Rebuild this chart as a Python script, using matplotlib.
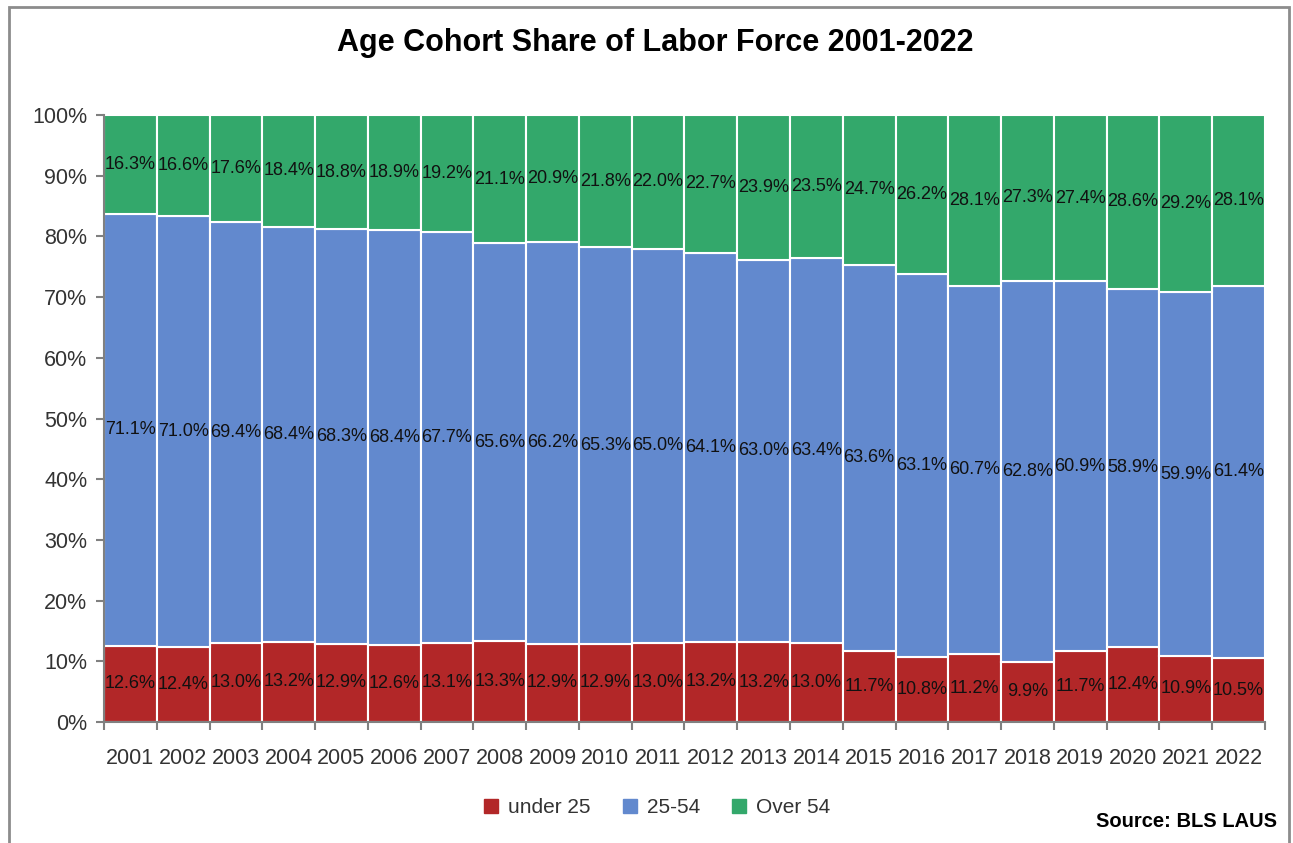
import matplotlib.pyplot as plt
import numpy as np
from matplotlib.patches import Rectangle
from matplotlib.lines import Line2D

years = [str(y) for y in range(2001, 2023)]
under_25 = [12.6, 12.4, 13.0, 13.2, 12.9, 12.6, 13.1, 13.3, 12.9, 12.9, 13.0,
            13.2, 13.2, 13.0, 11.7, 10.8, 11.2, 9.9, 11.7, 12.4, 10.9, 10.5]
age_25_54 = [71.1, 71.0, 69.4, 68.4, 68.3, 68.4, 67.7, 65.6, 66.2, 65.3, 65.0,
             64.1, 63.0, 63.4, 63.6, 63.1, 60.7, 62.8, 60.9, 58.9, 59.9, 61.4]
over_54 = [16.3, 16.6, 17.6, 18.4, 18.8, 18.9, 19.2, 21.1, 20.9, 21.8, 22.0,
           22.7, 23.9, 23.5, 24.7, 26.2, 28.1, 27.3, 27.4, 28.6, 29.2, 28.1]

series = [("under 25", under_25, "#B22728"),
          ("25-54", age_25_54, "#6289CE"),
          ("Over 54", over_54, "#33A86B")]

plt.rcParams["font.family"] = ["Liberation Sans", "DejaVu Sans"]

fig = plt.figure(figsize=(12.93, 8.43), dpi=100)
ax = fig.add_axes([0.0804, 0.1435, 0.8979, 0.7201])

x = np.arange(len(years))
# 100% stacked: scale each year's shares so the column tops out at 100
totals = np.sum([s[1] for s in series], axis=0)
bottom = np.zeros(len(years))
for name, vals, color in series:
    vals = np.array(vals)
    heights = vals / totals * 100
    ax.bar(x, heights, bottom=bottom, width=1.0, color=color,
           edgecolor="white", linewidth=1.5, label=name, zorder=2)
    for xi, b, h, v in zip(x, bottom, heights, vals):
        ax.text(xi, b + h / 2, f"{v:.1f}%", ha="center", va="center",
                fontsize=13, color="#111111", zorder=4)
    bottom = bottom + heights

ax.set_xlim(-0.5, len(years) - 0.5)
ax.set_ylim(0, 100)
ax.set_yticks(np.arange(0, 101, 10))
ax.set_yticklabels([f"{v}%" for v in range(0, 101, 10)])
ax.set_xticks(x)
ax.set_xticklabels(years)
ax.set_xticks(np.arange(-0.5, len(years)), minor=True)
ax.tick_params(axis="x", which="major", length=0, pad=19, labelsize=15.5,
               colors="#333333")
ax.tick_params(axis="x", which="minor", length=6, color="#808080", width=1.5)
ax.tick_params(axis="y", length=6, color="#808080", width=1.5,
               labelsize=15.5, colors="#333333", pad=6)
ax.grid(axis="y", color="#000000", alpha=0.12, linewidth=1.2, zorder=3)
for s in ("top", "right"):
    ax.spines[s].set_visible(False)
for s in ("left", "bottom"):
    ax.spines[s].set_color("#808080")
    ax.spines[s].set_linewidth(1.5)
    ax.spines[s].set_zorder(5)

fig.text(0.5067, 0.949, "Age Cohort Share of Labor Force 2001-2022",
         ha="center", va="center", fontsize=22, fontweight="bold")

handles = [Line2D([], [], marker="s", linestyle="", markersize=10,
                  color=c, label=n) for n, _, c in series]
leg = fig.legend(handles=handles, loc="center", bbox_to_anchor=(0.507, 0.042),
                 ncol=3, frameon=False, fontsize=15, handletextpad=0.3,
                 columnspacing=1.4, handlelength=1.0)
for t in leg.get_texts():
    t.set_color("#333333")

fig.text(0.988, 0.025, "Source: BLS LAUS", ha="right", va="center",
         fontsize=14.5, fontweight="bold")

fig.patches.append(Rectangle((9 / 1293, -0.02), 1280 / 1293, 1.0117,
                             transform=fig.transFigure, fill=False,
                             edgecolor="#8C8C8C", linewidth=2))

fig.savefig("out.png", dpi=100, facecolor="white")
